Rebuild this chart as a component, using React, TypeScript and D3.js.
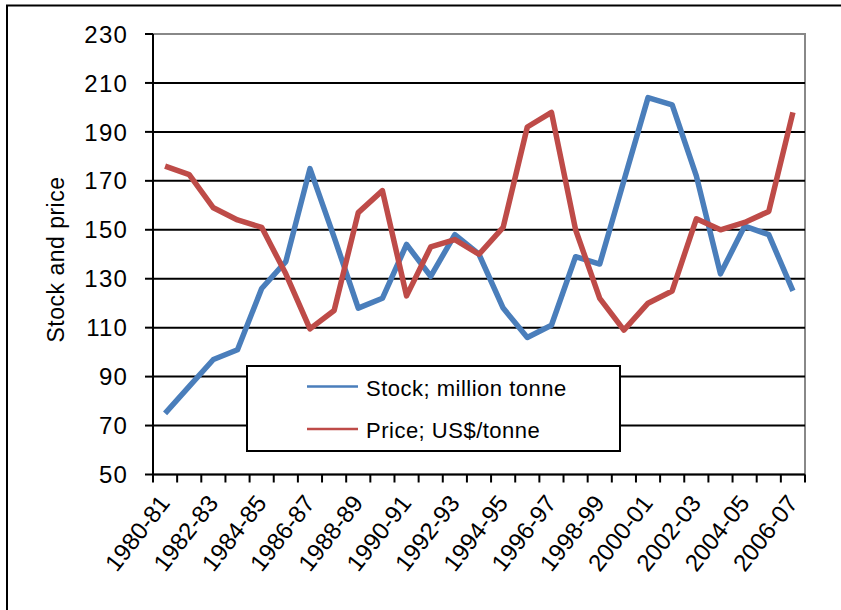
import React from "react";
import * as d3 from "d3";

const categories = [
  "1980-81","1981-82","1982-83","1983-84","1984-85","1985-86","1986-87","1987-88","1988-89","1989-90",
  "1990-91","1991-92","1992-93","1993-94","1994-95","1995-96","1996-97","1997-98","1998-99","1999-00",
  "2000-01","2001-02","2002-03","2003-04","2004-05","2005-06","2006-07",
];
const stock = [75, 86, 97, 101, 126, 137, 175, 147, 118, 122, 144, 131, 148, 140, 118, 106, 111, 139, 136, 170, 204, 201, 172, 132, 151.5, 148, 125];
const price = [176, 172.5, 159, 154, 151, 132, 109.5, 117, 157, 166, 123, 143, 146, 140, 151, 192, 198, 150, 122, 109, 120, 125, 154.5, 150, 153, 157.5, 198];
const yTicks = [50, 70, 90, 110, 130, 150, 170, 190, 210, 230];
const seriesNames = ["Stock; million tonne", "Price; US$/tonne"];
const seriesColors = ["#4A7EBB", "#BE4B48"];

const W = 841, H = 610;
const left = 153, right = 805, top = 34, bottom = 474.5;
const font = "'Liberation Sans', Arial, sans-serif";

export default function App() {
  const x = d3.scaleBand<string>().domain(categories).range([left, right]);
  const y = d3.scaleLinear().domain([50, 230]).range([bottom, top]);
  const line = d3.line<number>()
    .x((_, i) => (x(categories[i]) as number) + x.bandwidth() / 2)
    .y((d) => y(d));
  const boundaries = d3.range(categories.length + 1).map((i) => left + i * x.bandwidth());

  return (
    <svg width={W} height={H} style={{ position: "absolute", left: 0, top: 0, background: "#fff" }} fontFamily={font}>
      <rect x={0} y={0} width={W} height={H} fill="#fff" />
      <rect x={7} y={5.5} width={W + 20} height={H + 20} fill="none" stroke="#000" strokeWidth={2} />
      {/* plot area border */}
      <rect x={left} y={top} width={right - left} height={bottom - top} fill="none" stroke="#888" strokeWidth={2} />
      {/* gridlines */}
      {yTicks.filter((t) => t !== 230 && t !== 50).map((t) => (
        <line key={t} x1={left} x2={right} y1={y(t)} y2={y(t)} stroke="#000" strokeWidth={2} />
      ))}
      {/* y axis */}
      <line x1={left} x2={left} y1={top} y2={bottom} stroke="#000" strokeWidth={2} />
      {yTicks.map((t) => (
        <g key={t}>
          <line x1={left - 8} x2={left} y1={y(t)} y2={y(t)} stroke="#000" strokeWidth={2} />
          <text x={128} y={y(t)} dy="0.36em" textAnchor="end" fontSize={24} letterSpacing={1.2} fill="#000">{t}</text>
        </g>
      ))}
      {/* x axis */}
      <line x1={left} x2={right} y1={bottom} y2={bottom} stroke="#000" strokeWidth={2} />
      {boundaries.map((b, i) => (
        <line key={i} x1={b} x2={b} y1={bottom} y2={bottom + 8} stroke="#000" strokeWidth={2} />
      ))}
      {categories.map((c, i) => i % 2 === 0 ? (
        <text key={c} transform={`translate(${(x(c) as number) + x.bandwidth() / 2 + 6},${bottom + 29}) rotate(-52)`}
          textAnchor="end" fontSize={24} fill="#000">{c}</text>
      ) : null)}
      <text transform={`translate(64,${(177 + 342) / 2}) rotate(-90)`} textAnchor="middle" fontSize={23} letterSpacing={0.5} fill="#000">Stock and price</text>
      {/* series */}
      <path d={line(stock) || ""} fill="none" stroke={seriesColors[0]} strokeWidth={5.5} strokeLinejoin="round" />
      <path d={line(price) || ""} fill="none" stroke={seriesColors[1]} strokeWidth={5.5} strokeLinejoin="round" />
      {/* legend */}
      <rect x={247} y={366} width={373} height={85} fill="#fff" stroke="#000" strokeWidth={2} />
      {seriesNames.map((n, i) => (
        <g key={n}>
          <line x1={307} x2={358} y1={386.5 + i * 42.5} y2={386.5 + i * 42.5} stroke={seriesColors[i]} strokeWidth={2.5} />
          <text x={366} y={386.5 + i * 42.5 + 9} fontSize={22} fill="#000" letterSpacing={0.5}>{n}</text>
        </g>
      ))}
    </svg>
  );
}
